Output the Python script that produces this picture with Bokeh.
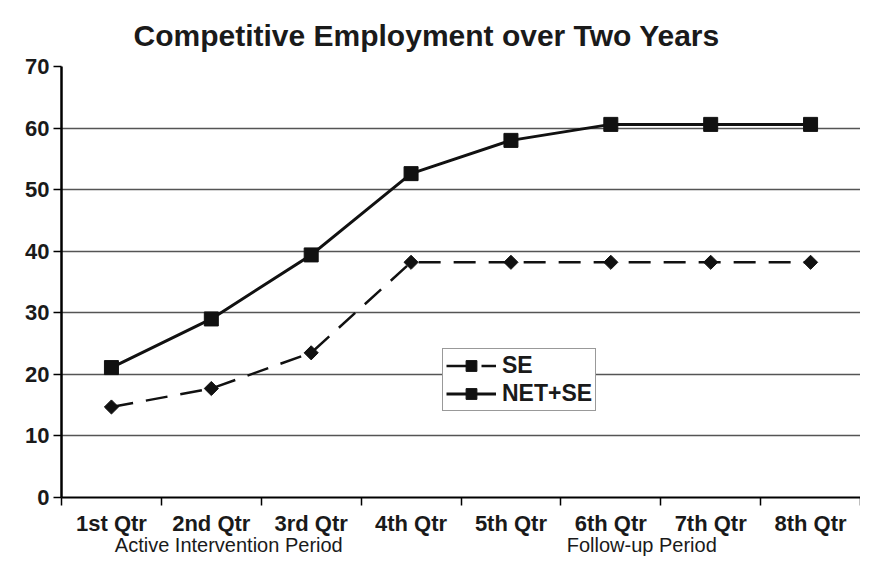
import numpy as np
from bokeh.plotting import figure
from bokeh.models import (Range1d, FixedTicker, Legend, LegendItem, ColumnDataSource, LinearAxis)
from bokeh.embed import file_html
from bokeh.resources import INLINE

# ---- data ----
categories = ["1st Qtr", "2nd Qtr", "3rd Qtr", "4th Qtr", "5th Qtr", "6th Qtr", "7th Qtr", "8th Qtr"]
se = [14.7, 17.7, 23.5, 38.2, 38.2, 38.2, 38.2, 38.2]
net_se = [21.1, 29.0, 39.4, 52.6, 58.0, 60.6, 60.6, 60.6]
y_ticks = [0, 10, 20, 30, 40, 50, 60, 70]
title_text = "Competitive Employment over Two Years"
period_labels = ["Active Intervention Period", "Follow-up Period"]
period_pos = [1.675, 5.81]   # label centres in category units

FONT = "Liberation Sans"
TXT = "#1a1a1a"
n = len(categories)
xc = np.arange(n) + 0.5
src = ColumnDataSource(dict(x=xc, se=se, net=net_se))

p = figure(width=860, height=558, output_backend="svg", toolbar_location=None,
           x_range=Range1d(0, n), y_range=Range1d(0, 70),
           min_border_left=61, min_border_right=0, min_border_top=66, min_border_bottom=58)
p.outline_line_color = None

# title
p.title.text = title_text
p.title.text_font = FONT
p.title.text_font_style = "bold"
p.title.text_font_size = "30px"
p.title.text_color = TXT
p.title.align = "left"
p.title.offset = 72
p.title.standoff = 30

# x axis: labels at centres, tick marks at category boundaries
p.xaxis.ticker = FixedTicker(ticks=list(xc), minor_ticks=list(np.arange(n + 1)))
p.xaxis.major_label_overrides = {float(v): c for v, c in zip(xc, categories)}
p.xaxis.major_tick_line_color = None
p.xaxis.major_tick_out = 0
p.xaxis.major_tick_in = 0
p.xaxis.minor_tick_out = 8
p.xaxis.minor_tick_in = 0
p.xaxis.minor_tick_line_color = "black"
p.xaxis.minor_tick_line_width = 1.5
p.xaxis.major_label_standoff = 5
p.xaxis.major_label_text_font = FONT
p.xaxis.major_label_text_font_style = "bold"
p.xaxis.major_label_text_font_size = "22px"
p.xaxis.major_label_text_color = TXT
p.xaxis.axis_line_color = "black"
p.xaxis.axis_line_width = 2

# second row of x labels: the two periods
period_axis = LinearAxis(ticker=FixedTicker(ticks=period_pos, minor_ticks=[]),
                         major_label_overrides={float(v): t for v, t in zip(period_pos, period_labels)},
                         axis_line_color=None, major_tick_line_color=None, minor_tick_line_color=None,
                         major_tick_out=0, major_tick_in=0, major_label_standoff=-5,
                         major_label_text_font=FONT, major_label_text_font_size="20px",
                         major_label_text_color=TXT)
p.add_layout(period_axis, "below")

p.yaxis.ticker = FixedTicker(ticks=y_ticks)
p.yaxis.minor_tick_line_color = None
p.yaxis.major_tick_out = 8
p.yaxis.major_tick_in = 0
p.yaxis.major_tick_line_width = 1.5
p.yaxis.major_label_standoff = 4
p.yaxis.major_label_text_font = FONT
p.yaxis.major_label_text_font_style = "bold"
p.yaxis.major_label_text_font_size = "22px"
p.yaxis.major_label_text_color = TXT
p.yaxis.axis_line_color = "black"
p.yaxis.axis_line_width = 2.5

p.xgrid.grid_line_color = None
p.ygrid.ticker = FixedTicker(ticks=y_ticks)
p.ygrid.grid_line_color = "#555555"
p.ygrid.grid_line_width = 1.5

# series
l1 = p.line("x", "se", source=src, line_color="#111111", line_width=2.5, line_dash="22 13")
m1 = p.scatter("x", "se", source=src, marker="square", angle=np.pi / 4, size=10,
               fill_color="#111111", line_color="#111111")
l2 = p.line("x", "net", source=src, line_color="#111111", line_width=3)
m2 = p.scatter("x", "net", source=src, marker="square", size=14, fill_color="#111111", line_color="#111111")

legend = Legend(items=[LegendItem(label="SE", renderers=[l1, m1]),
                       LegendItem(label="NET+SE", renderers=[l2, m2])],
                location=(381, 86), orientation="vertical",
                glyph_width=50, glyph_height=27, label_height=27, spacing=1, padding=3,
                label_standoff=6, margin=0,
                label_text_font=FONT, label_text_font_style="bold", label_text_font_size="23px",
                label_text_color=TXT,
                border_line_color="#333333", border_line_width=1.5,
                background_fill_color="white", background_fill_alpha=1.0)
p.add_layout(legend, "center")

open("out.html", "w").write(file_html(p, INLINE))
